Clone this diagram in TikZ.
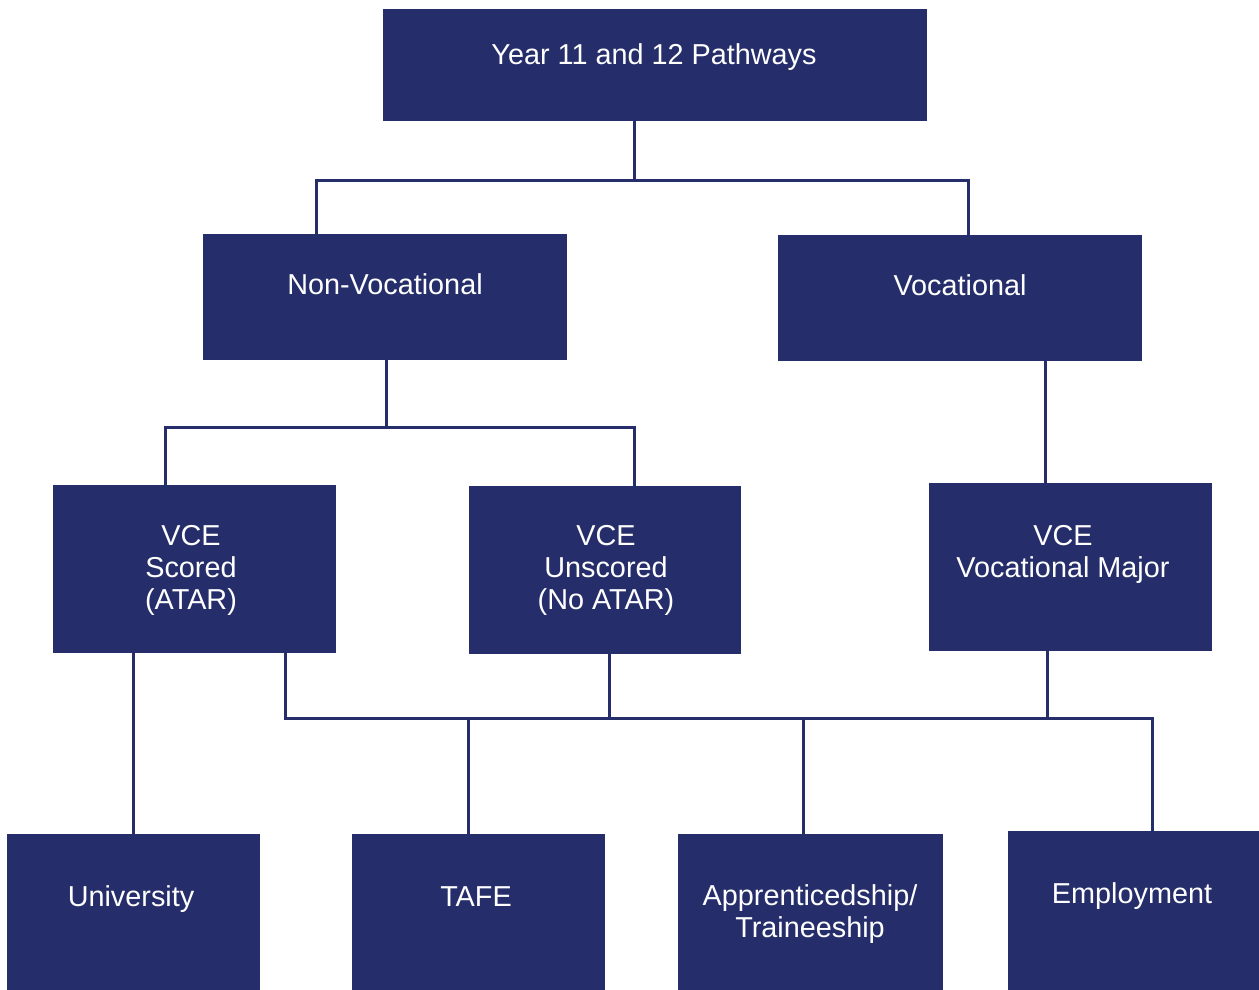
\documentclass[tikz,border=0pt]{standalone}
\usepackage{fontspec}
\setmainfont{Liberation Sans}
\definecolor{navy}{HTML}{252E6A}

\begin{document}
\begin{tikzpicture}[x=0.02cm, y=-0.02cm,
  box/.style={fill=navy, draw=none, inner sep=0pt},
  txt/.style={text=white, align=center, anchor=base, inner sep=0pt, font=\fontsize{16.4pt}{18.2pt}\selectfont},
  link/.style={draw=navy, line width=0.06cm}]

\useasboundingbox (0,0) rectangle (1259,990);

% boxes
\node[box, minimum width=10.88cm, minimum height=2.24cm] (top) at (655,65) {};
\node[box, minimum width=7.28cm, minimum height=2.52cm] (nonvoc) at (385,297) {};
\node[box, minimum width=7.28cm, minimum height=2.52cm] (voc) at (960,298) {};
\node[box, minimum width=5.66cm, minimum height=3.36cm] (scored) at (194.5,569) {};
\node[box, minimum width=5.44cm, minimum height=3.36cm] (unscored) at (605,570) {};
\node[box, minimum width=5.66cm, minimum height=3.36cm] (major) at (1070.5,567) {};
\node[box, minimum width=5.06cm, minimum height=3.12cm] (uni) at (133.5,912) {};
\node[box, minimum width=5.06cm, minimum height=3.12cm] (tafe) at (478.5,912) {};
\node[box, minimum width=5.30cm, minimum height=3.12cm] (appr) at (810.5,912) {};
\node[box, minimum width=5.02cm, minimum height=3.18cm] (employ) at (1133.5,910.5) {};

% labels (base = last line)
\node[txt] (toptxt) at (654,65) {Year 11 and 12 Pathways};
\node[txt] (nonvoctxt) at (385,295) {Non-Vocational};
\node[txt] (voctxt) at (960,296) {Vocational};
\node[txt] (scoredtxt) at (191,609) {VCE\\Scored\\(ATAR)};
\node[txt] (unscoredtxt) at (606,609) {VCE\\Unscored\\(No ATAR)};
\node[txt] (majortxt) at (1063,577) {VCE\\Vocational Major};
\node[txt] (unitxt) at (131,906) {University};
\node[txt] (tafetxt) at (476,906) {TAFE};
\node[txt] (apprtxt) at (810,937) {Apprenticedship/\\Traineeship};
\node[txt] (employtxt) at (1132,903) {Employment};

% connectors
\coordinate (j1) at (634,181);
\coordinate (j2) at (386,427);
\coordinate (j3) at (609,718);

\draw[link] (top.south -| j1) -- (j1);
\draw[link] (nonvoc.north -| 316,0) |- (j1) -| (voc.north -| 968,0);

\draw[link] (nonvoc.south -| j2) -- (j2);
\draw[link] (scored.north -| 165,0) |- (j2) -| (unscored.north -| 634,0);

\draw[link] (voc.south -| 1045,0) -- (major.north -| 1045,0);

\draw[link] (scored.south -| 133,0) -- (uni.north -| 133,0);

\draw[link] (scored.south -| 285,0) |- (j3) -| (employ.north -| 1152,0);
\draw[link] (unscored.south -| j3) -- (j3);
\draw[link] (major.south -| 1047,0) -- (1047,718);
\draw[link] (tafe.north -| 468,0) -- (468,718);
\draw[link] (appr.north -| 803,0) -- (803,718);

\end{tikzpicture}
\end{document}
